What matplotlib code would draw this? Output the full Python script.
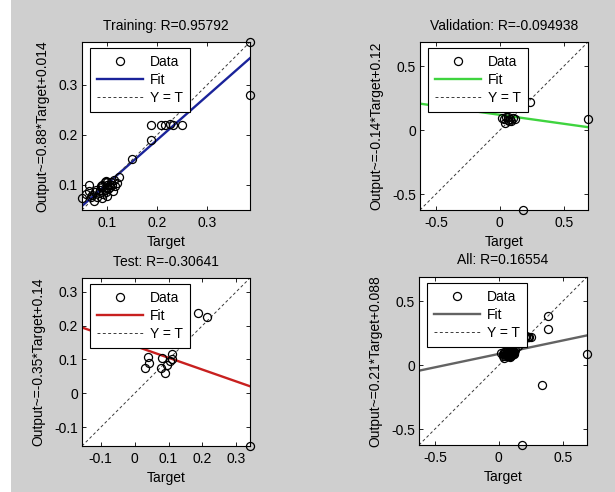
import matplotlib
matplotlib.use('Agg')
import matplotlib.pyplot as plt
from matplotlib.patches import Rectangle
from matplotlib.ticker import FuncFormatter, FixedLocator

plt.rcParams['font.family'] = ['Liberation Sans', 'DejaVu Sans']
plt.rcParams['axes.unicode_minus'] = False

# ---------------- data ----------------
train_t = [0.385, 0.385, 0.188, 0.208, 0.216, 0.226, 0.232, 0.249, 0.188, 0.150, 0.123, 0.113,
           0.050, 0.063, 0.063, 0.070, 0.075, 0.080, 0.090, 0.085, 0.090, 0.090, 0.095, 0.095,
           0.100, 0.100, 0.100, 0.105, 0.105, 0.110, 0.111, 0.098, 0.092, 0.088, 0.102, 0.108,
           0.097, 0.083, 0.078, 0.068, 0.073, 0.058, 0.100, 0.120, 0.115]
train_y = [0.385, 0.280, 0.220, 0.220, 0.220, 0.222, 0.220, 0.220, 0.190, 0.152, 0.116, 0.110,
           0.073, 0.100, 0.087, 0.080, 0.085, 0.075, 0.073, 0.090, 0.095, 0.100, 0.105, 0.090,
           0.095, 0.100, 0.105, 0.100, 0.095, 0.100, 0.088, 0.085, 0.082, 0.098, 0.092, 0.106,
           0.108, 0.083, 0.090, 0.075, 0.068, 0.082, 0.078, 0.103, 0.097]

val_t = [0.236, 0.690, 0.183, 0.014, 0.040, 0.105, 0.060, 0.050, 0.070, 0.080, 0.030, 0.090, 0.120, 0.060]
val_y = [0.223, 0.085, -0.625, 0.093, 0.054, 0.098, 0.080, 0.100, 0.070, 0.090, 0.085, 0.075, 0.090, 0.100]

test_t = [0.188, 0.213, 0.039, 0.031, 0.041, 0.082, 0.078, 0.090, 0.095, 0.110, 0.105, 0.110, 0.340]
test_y = [0.236, 0.226, 0.106, 0.074, 0.090, 0.103, 0.074, 0.061, 0.083, 0.100, 0.095, 0.115, -0.155]

all_t = train_t + val_t + test_t
all_y = train_y + val_y + test_y

titles = ["Training: R=0.95792", "Validation: R=-0.094938", "Test: R=-0.30641", "All: R=0.16554"]
slopes = [0.88, -0.14, -0.35, 0.21]
intercepts = [0.014, 0.12, 0.14, 0.088]
ylabels = ["Output~=0.88*Target+0.014", "Output~=-0.14*Target+0.12",
           "Output~=-0.35*Target+0.14", "Output~=0.21*Target+0.088"]
tick_sets = [[0.1, 0.2, 0.3], [-0.5, 0, 0.5], [-0.1, 0, 0.1, 0.2, 0.3], [-0.5, 0, 0.5]]
fit_colors = ['#1a239a', '#3fd43f', '#c8201f', '#636363']

# ---------------- figure ----------------
W, H = 615, 492
fig = plt.figure(figsize=(W / 100, H / 100), dpi=100, facecolor='#cfcfcf')
fig.patches.append(Rectangle((0, 0), 11 / W, 1, transform=fig.transFigure,
                             facecolor='white', edgecolor='none', zorder=-10))

fmt = FuncFormatter(lambda v, p: '%g' % round(v, 6))
FS = 10


def panel(px_left, px_top, t, y, slope, icpt, color, title, ylabel, ticks):
    size = 168
    ax = fig.add_axes([px_left / W, (H - px_top - size) / H, size / W, size / H])
    lo = min(min(t), min(y))
    hi = max(max(t), max(y))
    ax.set_xlim(lo, hi)
    ax.set_ylim(lo, hi)
    ax.plot(t, y, 'o', mfc='none', mec='k', ms=5.8, mew=0.9, label='Data',
            zorder=3, clip_on=False)
    ax.plot([lo, hi], [slope * lo + icpt, slope * hi + icpt], color=color, lw=1.7,
            label='Fit', zorder=2)
    ax.plot([lo, hi], [lo, hi], ls=(0, (3, 2.5)), color='#3a3a3a', lw=0.7,
            label='Y = T', zorder=2)
    ax.xaxis.set_major_locator(FixedLocator(ticks))
    ax.yaxis.set_major_locator(FixedLocator(ticks))
    ax.xaxis.set_major_formatter(fmt)
    ax.yaxis.set_major_formatter(fmt)
    ax.tick_params(direction='in', top=True, right=True, length=3, width=0.6,
                   labelsize=FS)
    ax.tick_params(axis='x', pad=4)
    ax.tick_params(axis='y', pad=3)
    for s in ax.spines.values():
        s.set_linewidth(0.8)
    ax.set_title(title, fontsize=FS, pad=9)
    ax.set_xlabel('Target', fontsize=FS, labelpad=4)
    ax.set_ylabel(ylabel, fontsize=FS, labelpad=6.5)
    leg = ax.legend(loc='upper left', bbox_to_anchor=(8 / size, 1 - 6 / size),
                    borderaxespad=0, fontsize=FS, numpoints=1, handlelength=3.3,
                    handletextpad=0.5, labelspacing=0.3, borderpad=0.5,
                    fancybox=False, framealpha=1, edgecolor='k')
    leg.get_frame().set_linewidth(0.8)
    return ax


panel(82, 42, train_t, train_y, slopes[0], intercepts[0], fit_colors[0], titles[0], ylabels[0], tick_sets[0])
panel(420, 42, val_t, val_y, slopes[1], intercepts[1], fit_colors[1], titles[1], ylabels[1], tick_sets[1])
panel(82, 278, test_t, test_y, slopes[2], intercepts[2], fit_colors[2], titles[2], ylabels[2], tick_sets[2])
panel(419, 277, all_t, all_y, slopes[3], intercepts[3], fit_colors[3], titles[3], ylabels[3], tick_sets[3])

fig.savefig('out.png', dpi=100, facecolor=fig.get_facecolor())
